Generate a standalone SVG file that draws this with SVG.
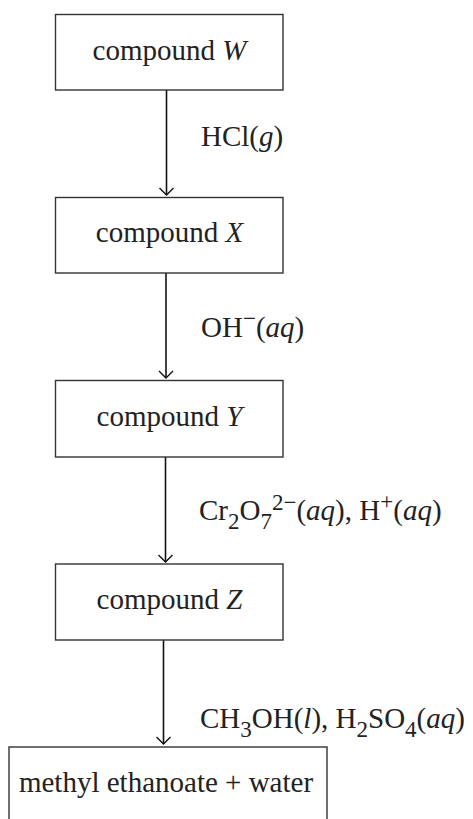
<svg xmlns="http://www.w3.org/2000/svg" width="473" height="819" viewBox="0 0 473 819">
<style>
.box{fill:#fff;stroke:#333;stroke-width:1.4}
.t{font-family:"Liberation Serif","Times New Roman",serif;font-size:29px;fill:#222}
.c{text-anchor:middle}
.i{font-style:italic}
.s{font-size:23px}
.conn{stroke:#111;stroke-width:1.6;fill:none}
.head{fill:none;stroke:#111;stroke-width:1.4}
</style>
<g id="connectors">
<path class="conn" d="M166.5,90 V195"/>
<path class="conn" d="M166,273 V378"/>
<path class="conn" d="M165.5,457 V562"/>
<path class="conn" d="M163.5,640 V744"/>
<path class="head" d="M159.5,188 L166.5,195 L173.5,188"/>
<path class="head" d="M159,371 L166,378 L173,371"/>
<path class="head" d="M158.5,555 L165.5,562 L172.5,555"/>
<path class="head" d="M156.5,737 L163.5,744 L170.5,737"/>
<text class="t" x="201" y="146">HCl(<tspan class="i">g</tspan>)</text>
<text class="t" x="201" y="337">OH<tspan class="s" dy="-11">−</tspan><tspan dy="11">(</tspan><tspan class="i">aq</tspan>)</text>
<text class="t" x="199" y="520">Cr<tspan class="s" dy="9">2</tspan><tspan dy="-9">O</tspan><tspan class="s" dy="9">7</tspan><tspan class="s" dy="-19">2−</tspan><tspan dy="10">(</tspan><tspan class="i">aq</tspan>), H<tspan class="s" dy="-11">+</tspan><tspan dy="11">(</tspan><tspan class="i">aq</tspan>)</text>
<text class="t" x="200" y="728">CH<tspan class="s" dy="9">3</tspan><tspan dy="-9">OH(</tspan><tspan class="i">l</tspan>), H<tspan class="s" dy="9">2</tspan><tspan dy="-9">SO</tspan><tspan class="s" dy="9">4</tspan><tspan dy="-9">(</tspan><tspan class="i">aq</tspan>)</text>
</g>
<g id="W">
<rect class="box" x="55.5" y="14.5" width="227.5" height="75.5"/>
<text class="t c" x="169.5" y="59.5">compound <tspan class="i">W</tspan></text>
</g>
<g id="X">
<rect class="box" x="55.5" y="197.5" width="227.5" height="75.5"/>
<text class="t c" x="169.5" y="242">compound <tspan class="i">X</tspan></text>
</g>
<g id="Y">
<rect class="box" x="55.5" y="380.5" width="227.5" height="76.5"/>
<text class="t c" x="169.5" y="426">compound <tspan class="i">Y</tspan></text>
</g>
<g id="Z">
<rect class="box" x="55.5" y="564" width="227.5" height="76"/>
<text class="t c" x="169.5" y="609">compound <tspan class="i">Z</tspan></text>
</g>
<g id="product">
<rect class="box" x="9" y="747" width="318" height="90"/>
<text class="t c" x="166" y="792">methyl ethanoate + water</text>
</g>
</svg>
